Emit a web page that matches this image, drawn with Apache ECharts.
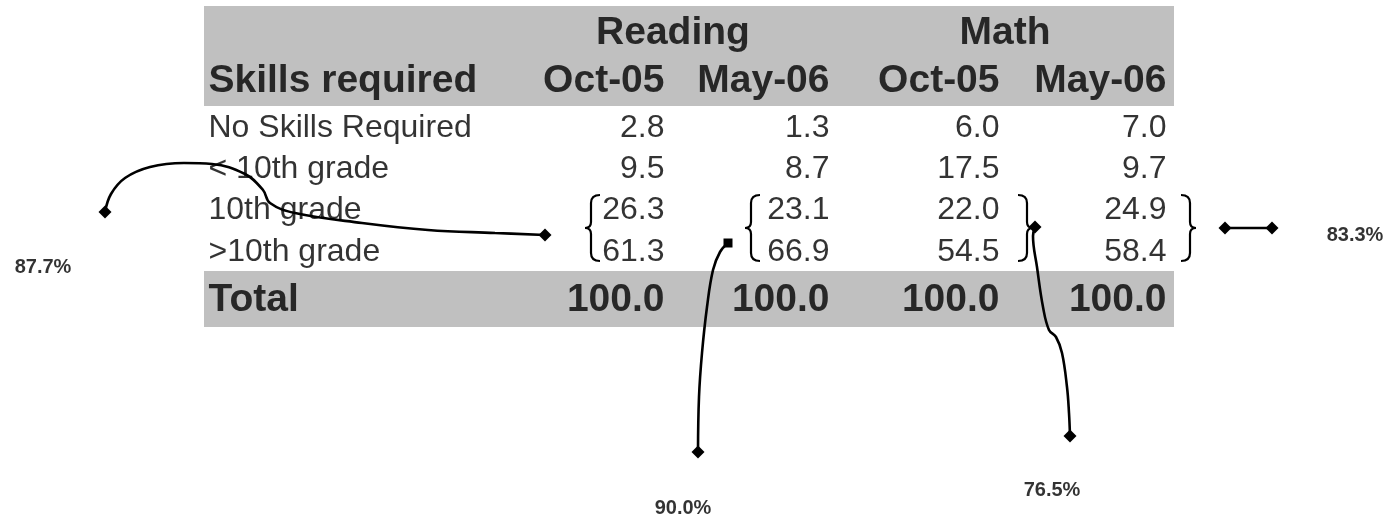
<!DOCTYPE html>
<html>
<head>
<meta charset="utf-8">
<script src="https://cdn.jsdelivr.net/npm/echarts@6/dist/echarts.min.js"></script>
<style>
  html, body { margin: 0; padding: 0; background: #ffffff; }
  #chart { width: 1395px; height: 522px; }
</style>
</head>
<body>
<div id="chart"></div>
<script>
// table content
var subjects = ['Reading', 'Math']
var periods = ['Oct-05', 'May-06', 'Oct-05', 'May-06']
var rowLabels = ['No Skills Required', '< 10th grade', '10th grade', '>10th grade']
var readingOct05 = [2.8, 9.5, 26.3, 61.3]
var readingMay06 = [1.3, 8.7, 23.1, 66.9]
var mathOct05 = [6.0, 17.5, 22.0, 54.5]
var mathMay06 = [7.0, 9.7, 24.9, 58.4]
var totals = [100.0, 100.0, 100.0, 100.0]
// share of "10th grade" + ">10th grade" for each column
var upperShares = [87.7, 90.0, 76.5, 83.3]

// layout (pixel units of the hidden axes)
var colRight = [665, 830, 1000, 1167]
var subjectX = [673, 1005]
var labelX = 208
var headY = [33, 81]
var rowY = [128, 169, 210, 252]
var totalY = 300
var shareLabelPos = [[43, 267], [683, 508], [1052, 490], [1355, 235]]
var connectors = [
  [[545, 235], [495, 233], [428, 230], [362, 223], [295, 213], [270, 203], [263, 190], [245, 174], [212, 164], [184, 163], [150, 167], [125, 178], [111, 194], [105, 212]],
  [[728, 243], [720, 252], [713, 270], [707, 307], [702, 353], [699, 397], [698, 452]],
  [[1035, 227], [1033, 236], [1037, 267], [1043, 307], [1049, 330], [1056, 337], [1062, 353], [1067, 387], [1069, 413], [1070, 436]],
  [[1225, 228], [1272, 228]]
]
var endSymbols = [['diamond', 'diamond'], ['rect', 'diamond'], ['diamond', 'diamond'], ['diamond', 'diamond']]

var FONT = '"Liberation Sans", Arial, sans-serif'

// curly brace built from simple graphic pieces
function brace(tipX, hookX, top, bottom) {
  var mid = (top + bottom) / 2
  var sx = hookX < tipX ? 1 : -1
  var vx = hookX + sx * 9
  var st = { stroke: '#000', lineWidth: 2.2, fill: 'none' }
  return [
    { type: 'bezierCurve', shape: { x1: hookX, y1: top, cpx1: vx, cpy1: top, x2: vx, y2: top + 8 }, style: st },
    { type: 'line', shape: { x1: vx, y1: top + 8, x2: vx, y2: mid - 6 }, style: st },
    { type: 'bezierCurve', shape: { x1: vx, y1: mid - 6, cpx1: vx, cpy1: mid, x2: tipX, y2: mid }, style: st },
    { type: 'bezierCurve', shape: { x1: tipX, y1: mid, cpx1: vx, cpy1: mid, x2: vx, y2: mid + 6 }, style: st },
    { type: 'line', shape: { x1: vx, y1: mid + 6, x2: vx, y2: bottom - 8 }, style: st },
    { type: 'bezierCurve', shape: { x1: vx, y1: bottom - 8, cpx1: vx, cpy1: bottom, x2: hookX, y2: bottom }, style: st }
  ]
}

function textSeries(data, position, fontSize, bold) {
  return {
    type: 'scatter',
    symbolSize: 1,
    itemStyle: { color: 'transparent' },
    silent: true,
    data: data,
    label: {
      show: true,
      position: position,
      distance: 0,
      color: '#000000',
      fontFamily: FONT,
      fontSize: fontSize,
      fontWeight: bold ? 'bold' : 'normal',
      formatter: function (p) { return p.value[2] }
    }
  }
}

var columns = [readingOct05, readingMay06, mathOct05, mathMay06]
var cellData = []
columns.forEach(function (col, c) {
  col.forEach(function (v, r) {
    cellData.push([colRight[c], rowY[r], v.toFixed(1)])
  })
})
var totalData = totals.map(function (v, c) { return [colRight[c], totalY, v.toFixed(1)] })
var periodData = periods.map(function (p, c) { return [colRight[c], headY[1], p] })
var subjectData = subjects.map(function (s, i) { return [subjectX[i], headY[0], s] })
var rowLabelData = rowLabels.map(function (s, r) { return [labelX, rowY[r], s] })

var series = [
  textSeries(subjectData, 'inside', 39, true),
  textSeries(periodData, 'left', 39, true),
  textSeries([[labelX, headY[1], 'Skills required']], 'right', 39, true),
  textSeries(rowLabelData, 'right', 32, false),
  textSeries(cellData, 'left', 32, false),
  textSeries([[labelX, totalY, 'Total']], 'right', 39, true),
  textSeries(totalData, 'left', 39, true),
  textSeries(upperShares.map(function (v, i) {
    return [shareLabelPos[i][0], shareLabelPos[i][1], v.toFixed(1) + '%']
  }), 'inside', 20, true)
]

connectors.forEach(function (pts, i) {
  series.push({
    type: 'line',
    smooth: 0.4,
    silent: true,
    showAllSymbol: true,
    lineStyle: { color: '#000', width: 2.6 },
    itemStyle: { color: '#000' },
    data: pts.map(function (p, k) {
      var item = { value: p, symbol: 'none' }
      if (k === 0) { item.symbol = endSymbols[i][0]; item.symbolSize = endSymbols[i][0] === 'rect' ? 9 : 13 }
      if (k === pts.length - 1) { item.symbol = endSymbols[i][1]; item.symbolSize = 13 }
      return item
    }),
    z: 5
  })
})

var graphics = [
  { type: 'rect', z: -10, shape: { x: 204, y: 6, width: 970, height: 100 }, style: { fill: '#c0c0c0' } },
  { type: 'rect', z: -10, shape: { x: 204, y: 271, width: 970, height: 56 }, style: { fill: '#c0c0c0' } }
]
graphics = graphics
  .concat(brace(585, 600, 195, 261))
  .concat(brace(745, 760, 195, 261))
  .concat(brace(1033, 1018, 195, 261))
  .concat(brace(1196, 1181, 195, 261))

var chart = echarts.init(document.getElementById('chart'))
chart.setOption({
  animation: false,
  backgroundColor: '#ffffff',
  textStyle: { fontFamily: FONT },
  grid: { left: 0, right: 0, top: 0, bottom: 0 },
  xAxis: { type: 'value', min: 0, max: 1395, show: false },
  yAxis: { type: 'value', min: 0, max: 522, inverse: true, show: false },
  graphic: graphics,
  series: series
})
</script>
</body>
</html>
